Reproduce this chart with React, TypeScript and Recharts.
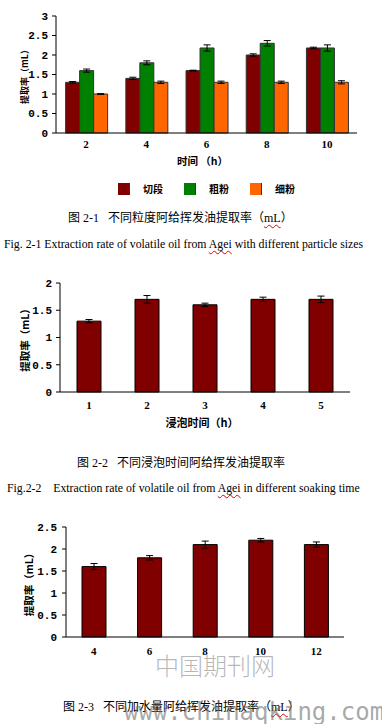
import { Bar, BarChart, ErrorBar, Legend, XAxis, YAxis } from "recharts";

// 图 2-1: particle size
const sizeTimes = ["2", "4", "6", "8", "10"];
const cutValues = [1.3, 1.4, 1.6, 2.0, 2.18];
const cutErrors = [0.02, 0.03, 0.01, 0.03, 0.02];
const coarseValues = [1.6, 1.8, 2.18, 2.3, 2.18];
const coarseErrors = [0.04, 0.05, 0.08, 0.07, 0.08];
const fineValues = [1.0, 1.3, 1.3, 1.3, 1.3];
const fineErrors = [0.01, 0.03, 0.03, 0.03, 0.04];
const sizeTicks = [0, 0.5, 1, 1.5, 2, 2.5, 3];

// 图 2-2: soaking time
const soakTimes = ["1", "2", "3", "4", "5"];
const soakValues = [1.3, 1.7, 1.6, 1.7, 1.7];
const soakErrors = [0.03, 0.07, 0.03, 0.04, 0.06];
const soakTicks = [0, 0.5, 1, 1.5, 2];

// 图 2-3: water added
const waterRatios = ["4", "6", "8", "10", "12"];
const waterValues = [1.6, 1.8, 2.1, 2.2, 2.1];
const waterErrors = [0.07, 0.05, 0.08, 0.04, 0.06];
const waterTicks = [0, 0.5, 1, 1.5, 2, 2.5];

const DARK_RED = "#800000";
const GREEN = "#008000";
const ORANGE = "#ff6600";

const CJK = '"Noto Sans CJK SC", sans-serif';
const SERIF_CJK = '"Liberation Serif", "Noto Sans CJK SC", serif';

const sizeRows = sizeTimes.map((time, i) => ({
  time,
  cut: cutValues[i],
  cutErr: cutErrors[i],
  coarse: coarseValues[i],
  coarseErr: coarseErrors[i],
  fine: fineValues[i],
  fineErr: fineErrors[i],
}));
const soakRows = soakTimes.map((time, i) => ({ time, value: soakValues[i], err: soakErrors[i] }));
const waterRows = waterRatios.map((ratio, i) => ({ ratio, value: waterValues[i], err: waterErrors[i] }));

const yTickStyle = { fontFamily: '"Liberation Mono", monospace', fontWeight: 700, fontSize: 11, fill: "#000" };
const xTickStyle = { fontFamily: '"Liberation Serif", serif', fontWeight: 700, fontSize: 11, fill: "#000" };

function verticalTitle(text: string, shift: number, size: number) {
  return ({ viewBox }: any) => {
    const cx = viewBox.x + viewBox.width / 2 + shift;
    const cy = viewBox.y + viewBox.height / 2;
    return (
      <text
        x={cx}
        y={cy}
        transform={`rotate(-90 ${cx} ${cy})`}
        textAnchor="middle"
        dominantBaseline="central"
        fontFamily={CJK}
        fontWeight={700}
        fontSize={size}
        fill="#000"
      >
        {text}
      </text>
    );
  };
}

function bottomTitle(text: string, dx: number, dy: number, size: number) {
  return ({ viewBox }: any) => (
    <text
      x={viewBox.x + viewBox.width / 2 + dx}
      y={viewBox.y + dy}
      textAnchor="middle"
      dominantBaseline="central"
      fontFamily={CJK}
      fontWeight={700}
      fontSize={size}
      fill="#000"
    >
      {text}
    </text>
  );
}

// tick marks between categories, pointing into the plot
function separatorAxis() {
  return (
    <XAxis
      xAxisId="sep"
      type="number"
      scale="linear"
      domain={[0, 5]}
      ticks={[0, 1, 2, 3, 4, 5]}
      allowDataOverflow
      tick={false}
      axisLine={false}
      tickLine={{ stroke: "#000" }}
      tickSize={4}
      mirror
      height={0}
    />
  );
}

function SwatchLegend({ payload }: any) {
  return (
    <div style={{ display: "flex" }}>
      {(payload || []).map((item: any) => (
        <div key={item.value} style={{ display: "flex", alignItems: "center", width: 66 }}>
          <span
            style={{
              width: 12,
              height: 12,
              background: item.color,
              borderRight: "1px solid #333",
              boxSizing: "border-box",
              marginRight: 13,
            }}
          />
          <span style={{ fontFamily: CJK, fontWeight: 700, fontSize: 10, color: "#000" }}>{item.value}</span>
        </div>
      ))}
    </div>
  );
}

function Caption({ left, top, size, font, children }: any) {
  return (
    <div
      style={{
        position: "absolute",
        left,
        top: top - size / 2,
        fontSize: size,
        lineHeight: `${size}px`,
        fontFamily: font,
        whiteSpace: "pre",
        color: "#000",
      }}
    >
      {children}
    </div>
  );
}

const squiggle = { textDecoration: "underline wavy #e00000", textDecorationThickness: 1, textUnderlineOffset: 2 };

function SizeChart() {
  return (
    <BarChart
      width={382}
      height={200}
      data={sizeRows}
      margin={{ top: 16, right: 25, bottom: 47, left: 0 }}
      barCategoryGap="16%"
      barGap={0}
    >
      <XAxis
        dataKey="time"
        axisLine={{ stroke: "#000" }}
        tickLine={false}
        tick={xTickStyle}
        tickSize={6}
        tickMargin={1}
        height={20}
        label={bottomTitle("时间 （h）", -4, 27, 10.5)}
      />
      {separatorAxis()}
      <YAxis
        width={56}
        domain={[0, 3]}
        ticks={sizeTicks}
        axisLine={{ stroke: "#000" }}
        tickLine={{ stroke: "#000" }}
        tickSize={4}
        tickMargin={4}
        tick={yTickStyle}
        label={verticalTitle("提取率（mL）", -4, 9)}
      />
      <Legend
        verticalAlign="middle"
        content={<SwatchLegend />}
        wrapperStyle={{ top: 181, left: 118, width: 220, height: 14 }}
      />
      <Bar dataKey="cut" name="切段" fill={DARK_RED} stroke="#333" strokeWidth={1} isAnimationActive={false}>
        <ErrorBar dataKey="cutErr" width={3.5} stroke="#000" strokeWidth={1} />
      </Bar>
      <Bar dataKey="coarse" name="粗粉" fill={GREEN} stroke="#333" strokeWidth={1} isAnimationActive={false}>
        <ErrorBar dataKey="coarseErr" width={3.5} stroke="#000" strokeWidth={1} />
      </Bar>
      <Bar dataKey="fine" name="细粉" fill={ORANGE} stroke="#333" strokeWidth={1} isAnimationActive={false}>
        <ErrorBar dataKey="fineErr" width={3.5} stroke="#000" strokeWidth={1} />
      </Bar>
    </BarChart>
  );
}

function SoakChart() {
  return (
    <BarChart width={382} height={160} data={soakRows} margin={{ top: 13, right: 32, bottom: 18, left: 0 }} barSize={24}>
      <XAxis
        dataKey="time"
        axisLine={{ stroke: "#000" }}
        tickLine={false}
        tick={xTickStyle}
        tickSize={6}
        tickMargin={3}
        height={20}
        label={bottomTitle("浸泡时间（h）", -3, 30, 11)}
      />
      {separatorAxis()}
      <YAxis
        width={60}
        domain={[0, 2]}
        ticks={soakTicks}
        axisLine={{ stroke: "#000" }}
        tickLine={{ stroke: "#000" }}
        tickSize={4}
        tickMargin={4}
        tick={yTickStyle}
        label={verticalTitle("提取率（mL）", -6, 10.5)}
      />
      <Bar dataKey="value" fill={DARK_RED} stroke="#000" strokeWidth={1} isAnimationActive={false}>
        <ErrorBar dataKey="err" width={3.5} stroke="#000" strokeWidth={1} />
      </Bar>
    </BarChart>
  );
}

function WaterChart() {
  return (
    <BarChart width={382} height={150} data={waterRows} margin={{ top: 17, right: 38, bottom: 3, left: 0 }} barSize={24}>
      <XAxis
        dataKey="ratio"
        axisLine={{ stroke: "#000" }}
        tickLine={false}
        tick={xTickStyle}
        tickSize={6}
        tickMargin={4}
        height={20}
        label={bottomTitle("加水量（倍）", -4, 31, 11)}
      />
      {separatorAxis()}
      <YAxis
        width={66}
        domain={[0, 2.5]}
        ticks={waterTicks}
        axisLine={{ stroke: "#000" }}
        tickLine={{ stroke: "#000" }}
        tickSize={4}
        tickMargin={5}
        tick={yTickStyle}
        label={verticalTitle("提取率（mL）", -5, 10.5)}
      />
      <Bar dataKey="value" fill={DARK_RED} stroke="#000" strokeWidth={1} isAnimationActive={false}>
        <ErrorBar dataKey="err" width={3.5} stroke="#000" strokeWidth={1} />
      </Bar>
    </BarChart>
  );
}

export default function App() {
  return (
    <div
      style={{
        position: "absolute",
        left: 0,
        top: 0,
        width: 382,
        height: 724,
        background: "#fff",
        overflow: "hidden",
      }}
    >
      <div style={{ position: "absolute", left: 0, top: 0 }}>
        <SizeChart />
      </div>
      <Caption left={68} top={218} size={12} font={SERIF_CJK}>
        {"图 2-1   不同粒度阿给挥发油提取率（"}
        <span style={squiggle}>mL</span>
        {"）"}
      </Caption>
      <Caption left={4} top={245} size={11.8} font='"Liberation Serif", serif'>
        {"Fig. 2-1 Extraction rate of volatile oil from "}
        <span style={squiggle}>Agei</span>
        {" with different particle sizes"}
      </Caption>

      <div style={{ position: "absolute", left: 0, top: 270 }}>
        <SoakChart />
      </div>
      <Caption left={77} top={463} size={12} font={SERIF_CJK}>
        {"图 2-2   不同浸泡时间阿给挥发油提取率"}
      </Caption>
      <Caption left={7} top={489} size={11.8} font='"Liberation Serif", serif'>
        {"Fig.2-2    Extraction rate of volatile oil from "}
        <span style={squiggle}>Agei</span>
        {" in different soaking time"}
      </Caption>

      <div style={{ position: "absolute", left: 0, top: 510 }}>
        <WaterChart />
      </div>
      <Caption left={63} top={707} size={12} font={SERIF_CJK}>
        {"图 2-3   不同加水量阿给挥发油提取率（"}
        <span style={squiggle}>mL</span>
        {"）"}
      </Caption>

      {/* site watermark */}
      <div
        style={{
          position: "absolute",
          left: 155,
          top: 653,
          fontFamily: CJK,
          fontWeight: 300,
          fontSize: 24,
          lineHeight: "24px",
          color: "rgba(120,120,120,0.55)",
          whiteSpace: "pre",
          pointerEvents: "none",
        }}
      >
        中国期刊网
      </div>
      <div
        style={{
          position: "absolute",
          left: 124,
          top: 700,
          fontFamily: '"DejaVu Sans Mono", monospace',
          fontSize: 24,
          lineHeight: "24px",
          color: "rgba(110,110,110,0.6)",
          whiteSpace: "pre",
          pointerEvents: "none",
        }}
      >
        www.chinaqking.com
      </div>
    </div>
  );
}
